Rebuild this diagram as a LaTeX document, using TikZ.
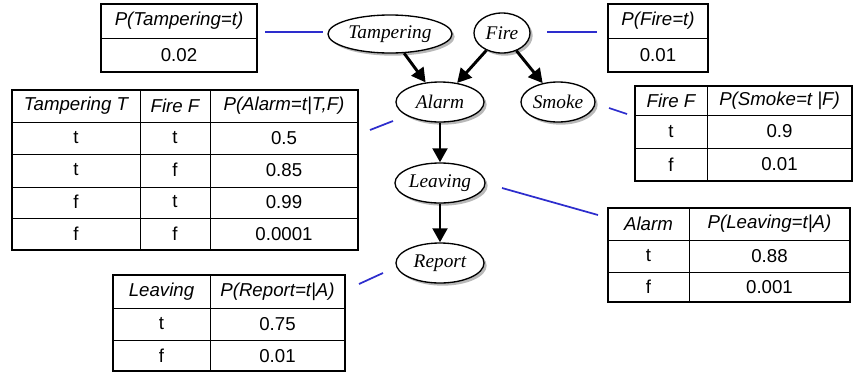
\documentclass[tikz,border=0pt]{standalone}
\usepackage{fontspec}
\setmainfont{Liberation Serif}
\setsansfont{Liberation Sans}
\usetikzlibrary{shapes.geometric, shadows, arrows.meta}

\definecolor{linkblue}{RGB}{45,45,205}

\tikzset{
  var/.style={draw, ellipse, fill=white, line width=1pt, inner sep=0pt,
    drop shadow={shadow xshift=2pt, shadow yshift=-2pt, fill=black!55},
    font=\fontsize{14.5}{16}\selectfont\itshape},
  dep/.style={line width=2.2pt, -{Triangle[length=10.5pt,width=11pt]}},
  link/.style={linkblue, line width=1.3pt},
  frame/.style={line width=1.5pt},
  rule/.style={line width=0.6pt},
  cell/.style={inner sep=0pt, font=\fontsize{14}{16}\selectfont\sffamily},
  head/.style={inner sep=0pt, font=\fontsize{14}{16}\selectfont\sffamily\itshape}
}

\begin{document}
\begin{tikzpicture}[x=0.75pt, y=-0.75pt]
  \useasboundingbox (0,0) rectangle (854,372);

  % network
  \node (tampering) [var, minimum width=93pt, minimum height=28.5pt] at (390,34) {Tampering};
  \node (fire) [var, minimum width=42pt, minimum height=30pt] at (502,33) {Fire};
  \node (alarm) [var, minimum width=66pt, minimum height=30pt] at (440,102) {Alarm};
  \node (smoke) [var, minimum width=55.5pt, minimum height=30pt] at (558,102) {Smoke};
  \node (leaving) [var, minimum width=67.5pt, minimum height=30pt] at (440,183) {Leaving};
  \node (report) [var, minimum width=66pt, minimum height=30pt] at (440,263) {Report};

  \draw [dep] (tampering) -- (alarm);
  \draw [dep] (fire) -- (alarm);
  \draw [dep] (fire) -- (smoke);
  \draw [dep] (alarm) -- (leaving);
  \draw [dep] (leaving) -- (report);

  % P(Tampering)
  \draw [frame] (101,4) rectangle (257,72);
  \draw [rule] (101,38) -- (257,38);
  \node (tamperhead) [head] at (179,21) {P(Tampering=t)};
  \node (tamperval) [cell] at (179,55) {0.02};

  % P(Fire)
  \draw [frame] (608,4) rectangle (708,72);
  \draw [rule] (608,38) -- (708,38);
  \node (firehead) [head] at (658,21) {P(Fire=t)};
  \node (fireval) [cell] at (658,55) {0.01};

  % P(Alarm | T, F)
  \draw [frame] (12,90) rectangle (358,250);
  \foreach \y in {122,154,187,218}
    \draw [rule] (12,\y) -- (358,\y);
  \foreach \x in {140,210}
    \draw [rule] (\x,90) -- (\x,250);
  \node (alarmhT) [head] at (76,106) {Tampering T};
  \node (alarmhF) [head] at (175,106) {Fire F};
  \node (alarmhP) [head] at (284,106) {P(Alarm=t|T,F)};
  \foreach \a/\b/\p [count=\i] in {t/t/0.5, t/f/0.85, f/t/0.99, f/f/0.0001}{
    \node (alarmT\i) [cell] at (76,{106+32*\i}) {\a};
    \node (alarmF\i) [cell] at (175,{106+32*\i}) {\b};
    \node (alarmP\i) [cell] at (284,{106+32*\i}) {\p};}

  % P(Smoke | F)
  \draw [frame] (635,86) rectangle (852,181);
  \foreach \y in {115,148}
    \draw [rule] (635,\y) -- (852,\y);
  \draw [rule] (707,86) -- (707,181);
  \node (smokehF) [head] at (671,100.5) {Fire F};
  \node (smokehP) [head] at (779.5,100.5) {P(Smoke=t |F)};
  \foreach \a/\p [count=\i] in {t/0.9, f/0.01}{
    \node (smokeF\i) [cell] at (671,{98.5+33*\i}) {\a};
    \node (smokeP\i) [cell] at (779.5,{98.5+33*\i}) {\p};}

  % P(Leaving | A)
  \draw [frame] (608,208) rectangle (850,302);
  \foreach \y in {240,272}
    \draw [rule] (608,\y) -- (850,\y);
  \draw [rule] (689,208) -- (689,302);
  \node (leavinghA) [head] at (648.5,224) {Alarm};
  \node (leavinghP) [head] at (769.5,224) {P(Leaving=t|A)};
  \foreach \a/\p [count=\i] in {t/0.88, f/0.001}{
    \node (leavingA\i) [cell] at (648.5,{225+31*\i}) {\a};
    \node (leavingP\i) [cell] at (769.5,{225+31*\i}) {\p};}

  % P(Report | L)
  \draw [frame] (113,275) rectangle (345,370.5);
  \foreach \y in {308,340}
    \draw [rule] (113,\y) -- (345,\y);
  \draw [rule] (210,275) -- (210,370.5);
  \node (reporthL) [head] at (161.5,291.5) {Leaving};
  \node (reporthP) [head] at (277.5,291.5) {P(Report=t|A)};
  \foreach \a/\p [count=\i] in {t/0.75, f/0.01}{
    \node (reportL\i) [cell] at (161.5,{292+32*\i}) {\a};
    \node (reportP\i) [cell] at (277.5,{292+32*\i}) {\p};}

  % links from tables to variables
  \coordinate (tl1) at (265,32);  \coordinate (tl2) at (323,32);
  \coordinate (fl1) at (547,32);  \coordinate (fl2) at (597,32);
  \coordinate (al1) at (370,130); \coordinate (al2) at (393,121);
  \coordinate (sl1) at (609,108); \coordinate (sl2) at (627,114);
  \coordinate (ll1) at (502,188); \coordinate (ll2) at (598,215);
  \coordinate (rl1) at (359,284); \coordinate (rl2) at (383,273);
  \foreach \l in {t,f,a,s,l,r}
    \draw [link] (\l l1) -- (\l l2);
\end{tikzpicture}
\end{document}
